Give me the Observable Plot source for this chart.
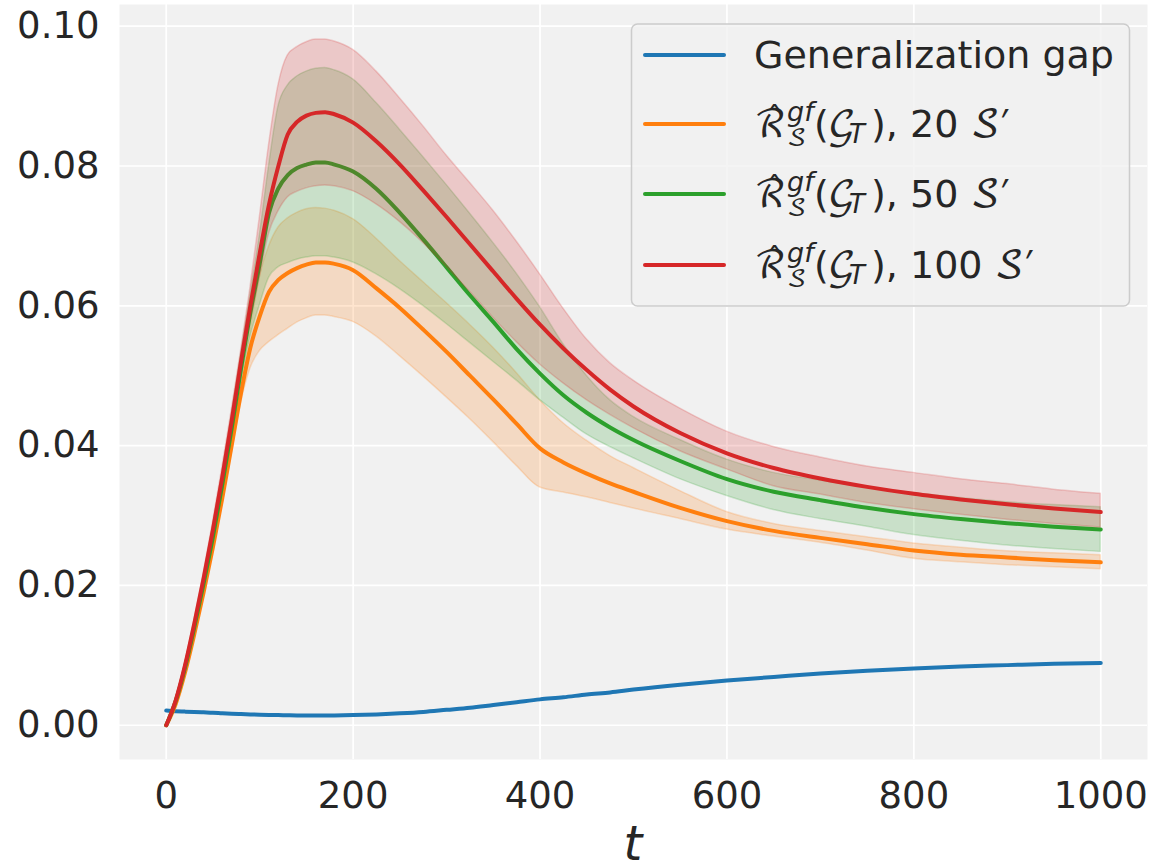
<!DOCTYPE html>
<html>
<head>
<meta charset="utf-8">
<script src="https://cdn.jsdelivr.net/npm/d3@7"></script>
<script src="https://cdn.jsdelivr.net/npm/@observablehq/plot@0.6"></script>
<style>
  html, body { margin: 0; padding: 0; background: white; }
  #chart { position: relative; width: 1157px; height: 866px; }
</style>
</head>
<body>
<div id="chart"></div>
<script>
// ---------- data ----------
const T = [0,10,20,30,40,50,60,70,80,90,100,110,120,130,140,150,160,170,180,200,225,250,275,300,325,350,375,400,425,450,475,500,550,600,650,700,750,800,850,900,950,1000];

const gap = [0.0021,0.0020,0.00195,0.0019,0.00185,0.0018,0.00172,0.00165,0.0016,0.00155,0.0015,0.00147,0.00145,0.00142,0.0014,0.0014,0.0014,0.0014,0.00141,0.00145,0.00155,0.0017,0.0019,0.0022,0.0025,0.0029,0.0033,0.0037,0.0040,0.0044,0.0047,0.0051,0.0058,0.0064,0.0069,0.0074,0.0078,0.0081,0.0084,0.0086,0.0088,0.0089];

const mean20 = [0,0.003,0.0075,0.013,0.019,0.0255,0.0325,0.040,0.0475,0.054,0.0585,0.0620,0.0637,0.0647,0.0654,0.0659,0.0662,0.0662,0.0660,0.0651,0.0625,0.0597,0.0566,0.0534,0.0500,0.0466,0.0431,0.0396,0.0376,0.0360,0.0346,0.0334,0.0311,0.0292,0.0278,0.0268,0.0259,0.0250,0.0244,0.0240,0.0236,0.0233];
const hi20 = [0,0.0032,0.0078,0.0135,0.0197,0.0263,0.0335,0.0412,0.049,0.0565,0.064,0.0685,0.0712,0.0725,0.0733,0.0738,0.0740,0.0739,0.0736,0.0724,0.0696,0.0664,0.0634,0.0604,0.0573,0.0540,0.0504,0.0465,0.0432,0.0407,0.0385,0.0368,0.0335,0.0305,0.0288,0.0278,0.0269,0.0260,0.0254,0.0249,0.0246,0.0243];
const lo20 = [0,0.0028,0.0072,0.0125,0.0183,0.0247,0.0315,0.0388,0.046,0.051,0.0535,0.0548,0.0558,0.0567,0.0576,0.0582,0.0586,0.0586,0.0584,0.0577,0.0556,0.0528,0.0499,0.0469,0.0438,0.0405,0.0371,0.0340,0.0333,0.0326,0.0318,0.0310,0.0295,0.0280,0.0270,0.0261,0.0250,0.0238,0.0233,0.0229,0.0226,0.0223];

const mean50 = [0,0.0034,0.0082,0.014,0.0203,0.027,0.0345,0.0425,0.051,0.059,0.066,0.0733,0.0768,0.0787,0.0797,0.0802,0.0805,0.0805,0.0802,0.0792,0.0767,0.0733,0.0695,0.0655,0.0615,0.0577,0.0538,0.0503,0.0472,0.0447,0.0426,0.0408,0.0378,0.0352,0.0334,0.0322,0.0311,0.0302,0.0295,0.0289,0.0284,0.0280];
const hi50 = [0,0.0036,0.0086,0.0147,0.0213,0.0283,0.036,0.0443,0.053,0.0615,0.070,0.080,0.0885,0.0915,0.0928,0.0935,0.0939,0.0940,0.0937,0.0924,0.0890,0.0852,0.0813,0.0773,0.0732,0.0690,0.0646,0.0598,0.0545,0.0500,0.0465,0.0441,0.0408,0.0380,0.0361,0.0350,0.0340,0.0332,0.0325,0.0319,0.0315,0.0312];
const lo50 = [0,0.0032,0.0078,0.0133,0.0193,0.0257,0.033,0.0408,0.049,0.0555,0.060,0.0640,0.0655,0.0661,0.0666,0.0669,0.0671,0.0671,0.0669,0.0662,0.0645,0.0624,0.0600,0.0574,0.0547,0.0520,0.0493,0.0465,0.0440,0.0416,0.0398,0.0382,0.0352,0.0328,0.0308,0.0295,0.0284,0.0272,0.0264,0.0257,0.0252,0.0248];

const mean100 = [0,0.0035,0.0085,0.0145,0.021,0.028,0.0355,0.0435,0.052,0.060,0.0675,0.0745,0.080,0.0845,0.0863,0.0872,0.0876,0.0877,0.0874,0.0862,0.0835,0.0802,0.0765,0.0727,0.0688,0.0649,0.0610,0.0573,0.0539,0.0508,0.0480,0.0456,0.0418,0.0389,0.0368,0.0353,0.0341,0.0331,0.0323,0.0316,0.0310,0.0305];
const hi100 = [0,0.0037,0.0088,0.015,0.0217,0.029,0.0368,0.045,0.0535,0.0625,0.0725,0.083,0.0915,0.0958,0.0970,0.0977,0.0981,0.0981,0.0978,0.0966,0.0935,0.0897,0.0857,0.0815,0.0776,0.0736,0.0692,0.0645,0.0596,0.0552,0.0518,0.0493,0.0453,0.0420,0.0398,0.0383,0.0370,0.0361,0.0352,0.0345,0.0337,0.0331];
const lo100 = [0,0.0033,0.0082,0.014,0.0203,0.027,0.0342,0.042,0.0505,0.0575,0.064,0.0703,0.0735,0.0755,0.0763,0.0768,0.0771,0.0772,0.0771,0.0764,0.0745,0.0720,0.0690,0.0656,0.0620,0.0583,0.0548,0.0516,0.0489,0.0465,0.0444,0.0425,0.0392,0.0366,0.0342,0.0330,0.0318,0.0309,0.0301,0.0294,0.0288,0.0283];

const seriesNames = ["Generalization gap", "20", "50", "100"];
const seriesColors = ["#1f77b4", "#ff7f0e", "#2ca02c", "#d62728"];
const xTicks = [0, 200, 400, 600, 800, 1000];
const yTicks = [0.00, 0.02, 0.04, 0.06, 0.08, 0.10];

// ---------- tables ----------
const rows = T.map((t, i) => ({
  t, gap: gap[i],
  m20: mean20[i], h20: hi20[i], l20: lo20[i],
  m50: mean50[i], h50: hi50[i], l50: lo50[i],
  m100: mean100[i], h100: hi100[i], l100: lo100[i]
}));

const curve = "monotone-x";
const band = (lo, hi, color) => Plot.areaY(rows, {x: "t", y1: lo, y2: hi, curve, fill: color, fillOpacity: 0.2, stroke: color, strokeOpacity: 0.2, strokeWidth: 1.5});
const line = (y, color) => Plot.lineY(rows, {x: "t", y, curve, stroke: color, strokeWidth: 4});

const svg = Plot.plot({
  width: 1157,
  height: 866,
  marginLeft: 119,
  marginRight: 10,
  marginTop: 4,
  marginBottom: 107,
  style: {background: "white", fontFamily: "DejaVu Sans", fontSize: "37px", color: "#262626"},
  x: {domain: [-50, 1050]},
  y: {domain: [-0.0049, 0.1031]},
  marks: [
    Plot.frame({fill: "#f1f1f1", stroke: null}),
    Plot.gridX(xTicks, {stroke: "white", strokeOpacity: 1, strokeWidth: 1.7}),
    Plot.gridY(yTicks, {stroke: "white", strokeOpacity: 1, strokeWidth: 1.7}),
    Plot.axisX(xTicks, {tickSize: 0, tickPadding: 22, label: null, tickFormat: d => String(d)}),
    Plot.axisY(yTicks, {tickSize: 0, tickPadding: 20, label: null, tickFormat: d3.format(".2f")}),
    line("gap", seriesColors[0]),
    band("l20", "h20", seriesColors[1]),
    line("m20", seriesColors[1]),
    band("l50", "h50", seriesColors[2]),
    line("m50", seriesColors[2]),
    band("l100", "h100", seriesColors[3]),
    line("m100", seriesColors[3])
  ]
});

document.getElementById("chart").appendChild(svg);

// ---------- x label ----------
const root = d3.select(svg);
root.append("text")
  .attr("x", 633).attr("y", 860)
  .attr("text-anchor", "middle")
  .attr("font-family", "DejaVu Sans").attr("font-style", "italic")
  .attr("font-size", 48).attr("fill", "#262626")
  .text("t");

// ---------- legend ----------
const MATH = "'DejaVu Math TeX Gyre', 'STIX Two Math', 'Noto Sans Math', 'DejaVu Serif', serif";
const lg = root.append("g").attr("text-anchor", "start");
lg.append("rect")
  .attr("x", 631.5).attr("y", 24).attr("width", 498).attr("height", 282).attr("rx", 6)
  .attr("fill", "#f1f1f1").attr("fill-opacity", 0.8)
  .attr("stroke", "#cccccc").attr("stroke-width", 1.5);

const rowY = [55, 124, 194, 265];
seriesNames.forEach((name, i) => {
  const y = rowY[i];
  lg.append("line").attr("x1", 645).attr("x2", 724).attr("y1", y).attr("y2", y)
    .attr("stroke", seriesColors[i]).attr("stroke-width", 4).attr("stroke-linecap", "round");
  const b = y + 13;
  if (i === 0) {
    lg.append("text").attr("x", 754).attr("y", b).attr("font-family", "DejaVu Sans")
      .attr("text-anchor", "start")
      .attr("font-size", 38).attr("fill", "#262626").text(name);
    return;
  }
  const x0 = 754;
  const t = lg.append("text").attr("y", b).attr("font-size", 38).attr("fill", "#262626")
    .attr("font-family", "DejaVu Sans").attr("text-anchor", "start");
  t.append("tspan").attr("x", x0).attr("y", b).attr("font-family", MATH).text("ℛ");
  t.append("tspan").attr("x", x0 + 12).attr("y", b - 6).attr("font-size", 34).text("ˆ");
  t.append("tspan").attr("x", x0 + 33).attr("y", b - 16).attr("font-size", 27).attr("font-style", "italic").text("gf");
  t.append("tspan").attr("x", x0 + 33).attr("y", b + 9).attr("font-size", 25).attr("font-family", MATH).text("𝒮");
  t.append("tspan").attr("x", x0 + 60).attr("y", b).text("(");
  t.append("tspan").attr("x", x0 + 73).attr("y", b).attr("font-family", MATH).text("𝒢");
  t.append("tspan").attr("x", x0 + 95).attr("y", b + 6).attr("font-size", 26).attr("font-style", "italic").text("T");
  t.append("tspan").attr("x", x0 + 117).attr("y", b).text("), " + name + " ");
  t.append("tspan").attr("font-family", MATH).text("𝒮");
  t.append("tspan").attr("font-family", MATH).text("′");
});
</script>
</body>
</html>
